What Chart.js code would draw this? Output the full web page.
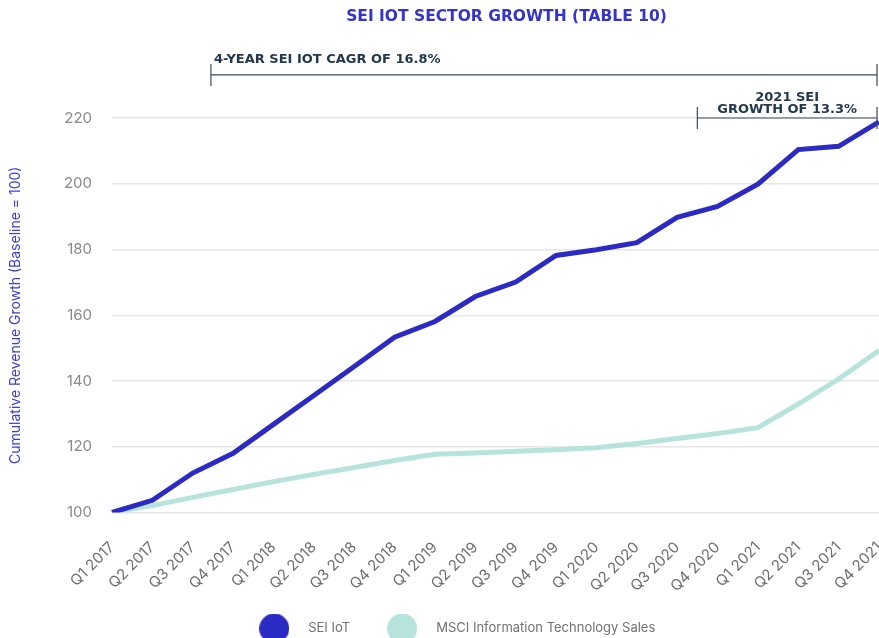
<!DOCTYPE html>
<html>
<head>
<meta charset="utf-8">
<title>SEI IoT Sector Growth</title>
<script src="https://cdn.jsdelivr.net/npm/chart.js@4"></script>
<style>
  html, body { margin: 0; padding: 0; background: #fff; overflow: hidden; }
  #wrap { width: 902px; height: 645px; }
</style>
</head>
<body>
<div id="wrap"><canvas id="growthChart"></canvas></div>
<script>
// quarterly cumulative revenue, baseline Q1 2017 = 100
const quarters = [
  'Q1 2017', 'Q2 2017', 'Q3 2017', 'Q4 2017',
  'Q1 2018', 'Q2 2018', 'Q3 2018', 'Q4 2018',
  'Q1 2019', 'Q2 2019', 'Q3 2019', 'Q4 2019',
  'Q1 2020', 'Q2 2020', 'Q3 2020', 'Q4 2020',
  'Q1 2021', 'Q2 2021', 'Q3 2021', 'Q4 2021'
];
const seiIot = [100, 103.7, 112, 118, 126.8, 135.6, 144.4, 153.3, 158.1, 165.7,
                170.1, 178.2, 179.9, 182.1, 189.8, 193.1, 199.9, 210.4, 211.4, 218.8];
const msciIt = [100, 102.1, 104.6, 107, 109.4, 111.6, 113.7, 115.8, 117.7, 118.1,
                118.6, 119.1, 119.7, 121, 122.5, 124, 125.8, 133, 140.6, 149.3];
const yTicks = [100, 120, 140, 160, 180, 200, 220];

const BLUE = '#2b2bc4';
const MINT = '#b6e3dc';
const INK = '#22384d';

// legend dot: a filled circle on a small canvas used as the point style
function dot(color) {
  const c = document.createElement('canvas');
  c.width = 30; c.height = 30;
  const g = c.getContext('2d');
  g.fillStyle = color;
  g.beginPath();
  g.arc(15, 15, 15, 0, Math.PI * 2);
  g.fill();
  return c;
}

// draws the title and the two growth brackets
const notes = {
  id: 'notes',
  afterDraw(chart) {
    const {ctx, chartArea, scales: {x, y}} = chart;
    ctx.save();
    ctx.textBaseline = 'middle';

    ctx.fillStyle = '#3434c8';
    ctx.font = 'bold 15.5px "DejaVu Sans"';
    ctx.textAlign = 'center';
    ctx.fillText('SEI IOT SECTOR GROWTH (TABLE 10)', (chartArea.left + chartArea.right) / 2 + 11, 17);

    const bracket = (from, to, at) => {
      const x0 = x.getPixelForValue(from);
      const x1 = x.getPixelForValue(to) - 2;
      const yy = y.getPixelForValue(at);
      ctx.strokeStyle = '#3c4d5e';
      ctx.lineWidth = 1.2;
      ctx.beginPath();
      ctx.moveTo(x0, yy); ctx.lineTo(x1, yy);
      ctx.moveTo(x0, yy - 11); ctx.lineTo(x0, yy + 11);
      ctx.moveTo(x1, yy - 11); ctx.lineTo(x1, yy + 11);
      ctx.stroke();
      return {x0, x1, yy};
    };

    ctx.fillStyle = INK;
    ctx.font = 'bold 13px "DejaVu Sans"';

    const cagr = bracket(2.45, 19, 233.1);
    ctx.textAlign = 'left';
    ctx.fillText('4-YEAR SEI IOT CAGR OF 16.8%', cagr.x0 + 3, cagr.yy - 15);

    const y2021 = bracket(14.5, 19, 220);
    const mid = (y2021.x0 + y2021.x1) / 2;
    ctx.textAlign = 'center';
    ctx.fillText('2021 SEI', mid, y2021.yy - 20);
    ctx.fillText('GROWTH OF 13.3%', mid, y2021.yy - 8);
    ctx.restore();
  }
};

new Chart(document.getElementById('growthChart'), {
  type: 'line',
  data: {
    labels: quarters,
    datasets: [
      {
        label: 'SEI IoT',
        data: seiIot,
        borderColor: BLUE,
        backgroundColor: BLUE,
        borderWidth: 5,
        pointRadius: 0,
        pointStyle: dot(BLUE),
        tension: 0
      },
      {
        label: 'MSCI Information Technology Sales',
        data: msciIt,
        borderColor: MINT,
        backgroundColor: MINT,
        borderWidth: 5,
        pointRadius: 0,
        pointStyle: dot(MINT),
        tension: 0
      }
    ]
  },
  options: {
    responsive: true,
    maintainAspectRatio: false,
    animation: false,
    layout: { padding: { top: 118, left: 0, right: 0, bottom: 0 } },
    scales: {
      x: {
        grid: { display: false },
        border: { display: false },
        afterFit: (scale) => {
          scale.height = 85;
          scale.paddingLeft = 0;
          scale.paddingRight = 23;
        },
        ticks: {
          autoSkip: false,
          minRotation: 45,
          maxRotation: 45,
          padding: 18,
          color: '#6e6e6e',
          font: { family: 'Inter', size: 15 }
        }
      },
      y: {
        min: 100,
        max: 220,
        afterBuildTicks: (scale) => { scale.ticks = yTicks.map(v => ({ value: v })); },
        afterFit: (scale) => { scale.width = 112; },
        grid: { color: '#e6e6e6', lineWidth: 1.5, drawTicks: false },
        border: { display: false },
        ticks: {
          padding: 20,
          color: '#8a8a8a',
          font: { family: 'Inter', size: 15 }
        },
        title: {
          display: true,
          text: 'Cumulative Revenue Growth (Baseline = 100)',
          color: '#3d3dd0',
          font: { family: 'Inter', size: 14 },
          padding: { top: 7, bottom: 0 }
        }
      }
    },
    plugins: {
      legend: {
        position: 'bottom',
        labels: {
          usePointStyle: true,
          pointStyleWidth: 55,
          padding: 24.5,
          color: '#727272',
          font: { family: 'Inter', size: 13 }
        }
      },
      tooltip: { enabled: false }
    }
  },
  plugins: [notes]
});
</script>
</body>
</html>
